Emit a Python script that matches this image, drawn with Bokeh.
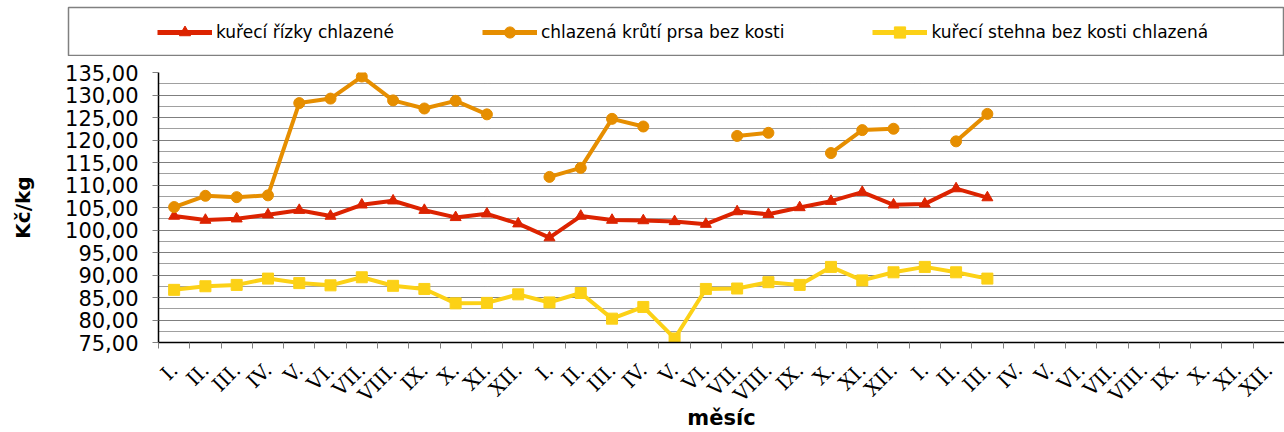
import math
from bokeh.plotting import figure
from bokeh.layouts import column
from bokeh.models import Range1d, FixedTicker, Legend, LegendItem
from bokeh.embed import file_html
from bokeh.resources import INLINE

nan = float("nan")

months = ["I.", "II.", "III.", "IV.", "V.", "VI.", "VII.", "VIII.", "IX.", "X.", "XI.", "XII."]
x_labels = months * 3

series_names = ["kuřecí řízky chlazené", "chlazená krůtí prsa bez kosti", "kuřecí stehna bez kosti chlazená"]

rizky = [103.1, 102.2, 102.5, 103.4, 104.4, 103.1, 105.6, 106.5, 104.4, 102.8, 103.6, 101.4,
         98.3, 103.1, 102.2, 102.1, 101.9, 101.3, 104.1, 103.5, 105.0, 106.4, 108.4, 105.6,
         105.8, 109.2, 107.2]
krut = [105.1, 107.6, 107.3, 107.7, 128.2, 129.2, 134.1, 128.8, 127.0, 128.7, 125.7, nan,
        111.8, 113.8, 124.7, 123.0, nan, nan, 120.9, 121.6, nan, 117.1, 122.2, 122.5,
        nan, 119.7, 125.8]
stehna = [86.7, 87.5, 87.8, 89.2, 88.2, 87.7, 89.5, 87.6, 86.9, 83.7, 83.8, 85.7,
          83.9, 86.0, 80.3, 82.9, 75.9, 86.9, 87.0, 88.4, 87.8, 91.8, 88.8, 90.6,
          91.8, 90.6, 89.2]

colors = ["#dc2300", "#e68e00", "#fcd116"]
markers = ["triangle", "circle", "square"]

y_ticks = list(range(75, 136, 5))
y_minor = [t + 2.5 for t in range(75, 135, 5)]

n_cat = len(x_labels)
centers = [i + 0.5 for i in range(n_cat)]
xs = centers[:len(rizky)]
all_series = [rizky, krut, stehna]

# ---- legend strip (top); its frame outline is the legend box ----
top = figure(width=1284, height=56, output_backend="svg", toolbar_location=None,
             x_range=Range1d(0, n_cat), y_range=Range1d(0, 1),
             min_border_left=68, min_border_right=0, min_border_top=7, min_border_bottom=0)
top.frame_align = False
top.axis.visible = False
top.grid.visible = False
top.outline_line_color = "#808080"
top.outline_line_width = 1.5
top.background_fill_color = "white"
top.border_fill_color = "white"

leg_items = []
for name, vals, col, mk in zip(series_names, all_series, colors, markers):
    # same series, but outside this strip's y-range: only their legend glyphs show
    ln = top.line(xs, vals, line_color=col, line_width=5)
    sc = top.scatter(xs, vals, marker=mk, size=11, fill_color=col, line_color=col)
    leg_items.append(LegendItem(label=name, renderers=[ln, sc]))

legend = Legend(items=leg_items, location=(89, 10), orientation="horizontal",
                padding=0, spacing=88, glyph_width=55, glyph_height=28,
                label_standoff=4, border_line_color=None, background_fill_alpha=0,
                label_text_font="DejaVu Sans", label_text_font_size="17px",
                label_text_color="black", margin=0)
top.add_layout(legend)

# ---- main chart ----
p = figure(width=1284, height=376, output_backend="svg", toolbar_location=None,
           x_range=Range1d(0, n_cat), y_range=Range1d(75, 135),
           min_border_left=158, min_border_right=0, min_border_top=16, min_border_bottom=89)
p.frame_align = False
p.outline_line_color = None
p.background_fill_color = "white"
p.border_fill_color = "white"

# X axis
p.xaxis.ticker = FixedTicker(ticks=centers, minor_ticks=list(range(n_cat + 1)))
p.xaxis.major_label_overrides = {c: lab for c, lab in zip(centers, x_labels)}
p.xaxis.major_tick_out = 0
p.xaxis.major_tick_in = 0
p.xaxis.minor_tick_out = 6
p.xaxis.minor_tick_in = 0
p.xaxis.minor_tick_line_color = "#808080"
p.xaxis.axis_line_color = "black"
p.xaxis.axis_line_width = 1.5
p.xaxis.major_label_orientation = math.pi / 4
p.xaxis.major_label_text_font = "DejaVu Serif"
p.xaxis.major_label_text_font_size = "20px"
p.xaxis.major_label_text_color = "black"
p.xaxis.major_label_standoff = 18
p.xaxis.axis_label = "měsíc"
p.xaxis.axis_label_text_font = "DejaVu Sans"
p.xaxis.axis_label_text_font_style = "bold"
p.xaxis.axis_label_text_font_size = "21px"
p.xaxis.axis_label_text_color = "black"
p.xaxis.axis_label_standoff = -12

# Y axis
p.yaxis.ticker = FixedTicker(ticks=y_ticks, minor_ticks=y_minor)
p.yaxis.major_label_overrides = {t: f"{t},00" for t in y_ticks}
p.yaxis.major_tick_out = 6
p.yaxis.major_tick_in = 0
p.yaxis.major_tick_line_color = "#808080"
p.yaxis.minor_tick_out = 0
p.yaxis.minor_tick_in = 0
p.yaxis.axis_line_color = "black"
p.yaxis.axis_line_width = 1.5
p.yaxis.major_label_text_font = "DejaVu Sans"
p.yaxis.major_label_text_font_size = "21px"
p.yaxis.major_label_text_color = "black"
p.yaxis.major_label_standoff = 14
p.yaxis.axis_label = "Kč/kg"
p.yaxis.axis_label_text_font = "DejaVu Sans"
p.yaxis.axis_label_text_font_style = "bold"
p.yaxis.axis_label_text_font_size = "20px"
p.yaxis.axis_label_text_color = "black"
p.yaxis.axis_label_standoff = 27

p.xgrid.visible = False
p.ygrid.grid_line_color = "#7f7f7f"
p.ygrid.grid_line_width = 1
p.ygrid.minor_grid_line_color = "#404040"
p.ygrid.minor_grid_line_dash = "1 1"
p.ygrid.minor_grid_line_width = 1

for vals, col, mk in zip(all_series, colors, markers):
    p.line(xs, vals, line_color=col, line_width=4)
    p.scatter(xs, vals, marker=mk, size=11, fill_color=col, line_color=col)

layout = column(top, p, spacing=0)
open("out.html", "w").write(file_html(layout, INLINE))
